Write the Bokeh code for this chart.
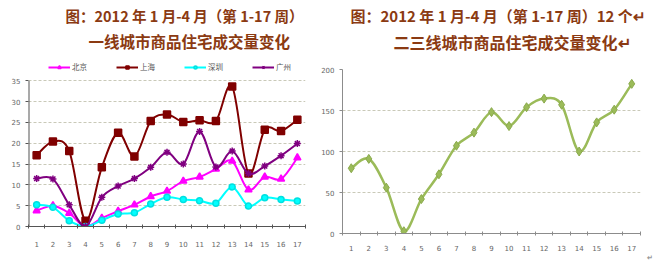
from bokeh.plotting import figure
from bokeh.layouts import row, column
from bokeh.models import (ColumnDataSource, FixedTicker, Legend, LegendItem,
                          Range1d, Title)
from bokeh.embed import file_html
from bokeh.resources import INLINE

# ---------------- data ----------------
weeks = list(range(1, 18))
week_labels = [str(w) for w in weeks]

beijing = [3.8, 5.0, 3.2, 0.0, 2.0, 3.7, 5.2, 7.2, 8.5, 10.9, 11.9, 13.8, 15.7, 8.8, 11.9, 11.4, 16.5]
shanghai = [17.1, 20.4, 18.1, 1.4, 14.2, 22.5, 16.8, 25.3, 26.9, 25.1, 25.5, 25.3, 33.6, 12.7, 23.2, 22.9, 25.6]
shenzhen = [5.2, 4.6, 1.4, 0.0, 1.5, 3.0, 3.3, 5.4, 7.0, 6.5, 6.2, 5.6, 9.5, 4.9, 6.9, 6.5, 6.1]
guangzhou = [11.5, 11.4, 5.2, 0.0, 7.0, 9.7, 11.5, 14.2, 17.8, 15.0, 22.8, 14.3, 18.1, 12.7, 14.5, 17.0, 19.9]
tier23 = [79.6, 91, 55.9, 2.8, 42, 72.2, 107, 123, 148, 131, 154, 164.5, 157, 100, 135.5, 151, 182.5]

left_ticks = [0, 5, 10, 15, 20, 25, 30, 35]
right_ticks = [0, 50, 100, 150, 200]

left_title1 = "图：2012 年 1 月-4 月（第 1-17 周）"
left_title2 = "一线城市商品住宅成交量变化"
right_title1 = "图：2012 年 1 月-4 月（第 1-17 周）12 个↵"
right_title2 = "二三线城市商品住宅成交量变化↵"
return_mark = "↵"

TITLE_COLOR = "#8B3A12"
CJK = "Noto Sans CJK SC"
X_START, X_END = 0.5, 17.5


def smooth(xs, ys):
    """Bezier segments (Catmull-Rom style, like Excel's smoothed line)."""
    n = len(xs)
    d = dict(x0=[], y0=[], x1=[], y1=[], cx0=[], cy0=[], cx1=[], cy1=[])
    for i in range(n - 1):
        xp, yp = (xs[i - 1], ys[i - 1]) if i > 0 else (xs[i], ys[i])
        xn, yn = (xs[i + 2], ys[i + 2]) if i + 2 < n else (xs[i + 1], ys[i + 1])
        d["x0"].append(xs[i]); d["y0"].append(ys[i])
        d["x1"].append(xs[i + 1]); d["y1"].append(ys[i + 1])
        d["cx0"].append(xs[i] + (xs[i + 1] - xp) / 6.0)
        d["cy0"].append(ys[i] + (ys[i + 1] - yp) / 6.0)
        d["cx1"].append(xs[i + 1] - (xn - xs[i]) / 6.0)
        d["cy1"].append(ys[i + 1] - (yn - ys[i]) / 6.0)
    return ColumnDataSource(d)


def style_axes(p, yticks, axis_color, xstandoff):
    p.xaxis.ticker = FixedTicker(ticks=weeks, minor_ticks=[w + 0.5 for w in [0] + weeks])
    p.xaxis.major_label_overrides = {w: l for w, l in zip(weeks, week_labels)}
    p.xaxis.major_tick_line_color = None
    p.xaxis.minor_tick_line_color = axis_color
    p.xaxis.minor_tick_in = 2
    p.xaxis.minor_tick_out = 2
    p.xaxis.major_label_standoff = xstandoff
    p.yaxis.ticker = FixedTicker(ticks=yticks, minor_ticks=[])
    p.yaxis.major_tick_in = 0
    p.yaxis.major_tick_out = 3
    p.yaxis.major_tick_line_color = axis_color
    p.yaxis.minor_tick_line_color = None
    p.yaxis.major_label_standoff = 5
    for ax in (p.xaxis, p.yaxis):
        ax.axis_line_color = axis_color
        ax.major_label_text_font = "DejaVu Sans"
        ax.major_label_text_font_size = "7px"
        ax.major_label_text_color = "#666666"
    p.xgrid.grid_line_color = None
    p.ygrid.ticker = FixedTicker(ticks=yticks[1:])
    p.ygrid.grid_line_color = "#C9C9B8"
    p.ygrid.grid_line_dash = "3 2"
    p.outline_line_color = None


def add_title(p, text, offset, size, standoff):
    p.add_layout(Title(text=text, align="left", offset=offset, text_font=CJK,
                       text_font_size=size, text_font_style="bold",
                       text_color=TITLE_COLOR, standoff=standoff), "above")


def add_spacer(p, standoff):
    p.add_layout(Title(text=" ", text_font_size="1px", standoff=standoff), "above")


# ---------------- left chart ----------------
# frame: x 28..305, y 59..226 (legend sits in the top strip of the frame)
p1 = figure(width=318, height=261, output_backend="svg", toolbar_location=None,
            x_range=Range1d(X_START, X_END), y_range=Range1d(0, 40.8),
            min_border_left=28, min_border_right=13, min_border_bottom=35,
            min_border_top=0)
style_axes(p1, left_ticks, "#555555", 8)
p1.yaxis.axis_line_color = None
p1.segment(x0=[X_START], y0=[left_ticks[0]], x1=[X_START], y1=[left_ticks[-1]],
           line_color="#555555", line_width=2)

series = [
    ("北京", beijing, "#FF00FF", "triangle", "#FF00FF", 7),
    ("上海", shanghai, "#800000", "square", "#800000", 7),
    ("深圳", shenzhen, "#00FFFF", "circle", "#00E0E0", 6),
    ("广州", guangzhou, "#800080", "asterisk", "#800080", 7),
]
items = []
for name, vals, col, marker, mcol, size in series:
    src = smooth(weeks, vals)
    ln = p1.bezier(x0="x0", y0="y0", x1="x1", y1="y1", cx0="cx0", cy0="cy0",
                   cx1="cx1", cy1="cy1", source=src, line_color=col, line_width=2)
    sc = p1.scatter(weeks, vals, marker=marker, size=size, fill_color=col,
                    line_color=mcol, line_width=1.5)
    items.append(LegendItem(label=name, renderers=[ln, sc]))

legend = Legend(items=items, orientation="horizontal", location=(20, 154),
                label_text_font=CJK, label_text_font_size="7.5px",
                label_text_color="#555555", glyph_width=22, glyph_height=8,
                spacing=24, padding=2, margin=0, label_standoff=2,
                border_line_color=None, background_fill_alpha=0)
p1.add_layout(legend, "center")
add_spacer(p1, 2)
add_title(p1, left_title2, 60, "15.5px", 0)
add_title(p1, left_title1, 37, "14.5px", 4)

# ---------------- right chart ----------------
# frame: x 342..640, y 70..233
p2 = figure(width=342, height=261, output_backend="svg", toolbar_location=None,
            x_range=Range1d(X_START, X_END), y_range=Range1d(0, 200),
            min_border_left=24, min_border_right=20, min_border_bottom=28,
            min_border_top=0)
style_axes(p2, right_ticks, "#8C8C8C", 5)
src2 = smooth(weeks, tier23)
p2.bezier(x0="x0", y0="y0", x1="x1", y1="y1", cx0="cx0", cy0="cy0",
          cx1="cx1", cy1="cy1", source=src2, line_color="#9BBB59", line_width=2.5)
p2.scatter(weeks, tier23, marker="diamond", size=9, fill_color="#9BBB59",
           line_color="#8AAA4C")
add_spacer(p2, 13)
add_title(p2, right_title2, 51, "16px", 0)
add_title(p2, right_title1, 8, "15px", 4)
p2.add_layout(Title(text=return_mark, align="right", offset=-12, text_font=CJK,
                    text_font_size="7px", text_color="#999999", standoff=-8), "below")

layout = row(column(p1), column(p2))
open("out.html", "w").write(file_html(layout, INLINE))
